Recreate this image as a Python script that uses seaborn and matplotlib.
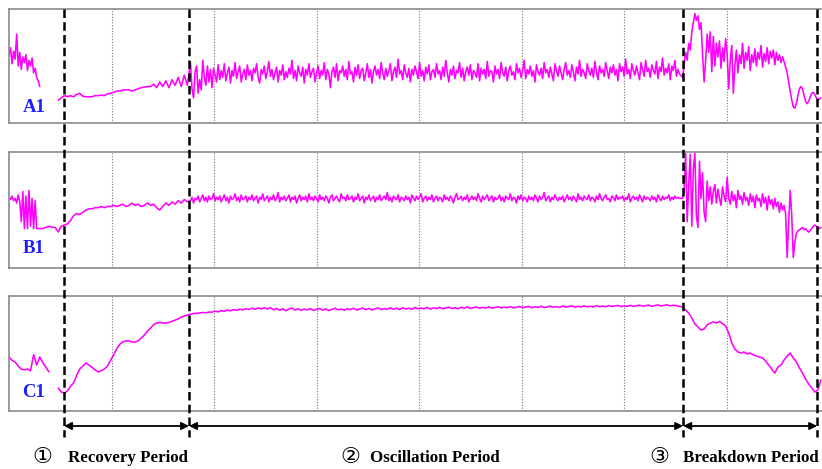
import numpy as np
import pandas as pd
import matplotlib
matplotlib.use("Agg")
import matplotlib.pyplot as plt
import seaborn as sns

# Time axis: one grid cell = 1.0; samples are stored per piece as
# (start time, sampling interval, values, joined to previous piece)
x_max = 7.93

# Boundaries between the three operating periods
period_bounds = [0.537, 1.756, 6.576, 7.883]
period_marks = ["①", "②", "③"]
period_names = ["Recovery Period", "Oscillation Period", "Breakdown Period"]
channel_names = ["A1", "B1", "C1"]

# ---- Channel A1 (percent of panel range) ----
a_pre = [60, 66, 52, 63, 56, 78, 50, 62, 47, 58, 53, 60, 46, 55, 50, 57,
         44, 48, 40, 37, 32]
a_rise = [20, 22, 24, 23, 24, 23, 25, 26, 23.5, 23,
          23, 23, 24, 24, 24.5, 24, 25.5, 26, 27, 28,
          28, 29, 29, 29, 28, 29, 30, 31, 31.5, 32,
          32, 34, 31, 36, 32, 37, 31, 38, 33, 40, 32, 42, 33]
a_osc = [
    53, 30, 22, 45, 50, 26, 38, 29, 55, 40, 33, 50, 36, 47, 31, 48, 42, 36, 51, 38,
    46, 40, 52, 37, 44, 49, 35, 46, 41, 53, 39, 45, 50, 36, 43, 47, 38, 51, 42, 46,
    37, 48, 44, 52, 40, 35, 47, 43, 50, 39, 45, 54, 41, 47, 38, 44, 49, 36, 46, 42,
    51, 38, 45, 40, 48, 43, 55, 39, 46, 37, 50, 44, 41, 49, 35, 47, 42, 52, 40, 45,
    48, 36, 44, 50, 39, 46, 42, 53, 38, 47, 43, 31, 45, 49, 40, 52, 37, 46, 44, 50,
    41, 47, 38, 54, 43, 45, 36, 49, 42, 51, 39, 46, 48, 37, 44, 52, 40, 47, 35, 45,
    50, 42, 47, 39, 53, 44, 38, 48, 41, 46, 52, 37, 45, 49, 40, 56, 43, 46, 38, 51,
    44, 40, 48, 36, 47, 42, 50, 45, 39, 53, 41, 46, 37, 49, 43, 51, 38, 45, 47, 40,
    52, 43, 46, 38, 49, 41, 55, 44, 36, 47, 42, 50, 39, 46, 44, 53, 40, 48, 37, 45,
    49, 42, 51, 38, 46, 44, 40, 52, 37, 48, 43, 47, 39, 54, 41, 46, 45, 36, 50, 43,
    47, 39, 53, 44, 41, 49, 37, 46, 50, 42, 45, 38, 52, 44, 48, 40, 46, 55, 39, 47,
    43, 50, 41, 46, 36, 51, 45, 42, 48, 39, 53, 44, 47, 40, 49, 43, 37, 52, 46, 41,
    50, 44, 38, 47, 53, 42, 46, 40, 51, 45, 37, 49, 43, 55, 41, 47, 44, 39, 52, 46,
    42, 48, 40, 54, 45, 38, 50, 44, 47, 41, 53, 46, 39, 49, 44, 51, 42, 47, 37, 52,
    45, 49, 41, 56, 43, 47, 39, 52, 46, 42, 50, 44, 38, 53, 47, 41, 55, 45, 48, 40,
    51, 46, 43, 54, 39, 49, 45, 57, 42, 48, 44, 52, 38, 50, 46, 55, 41, 47, 43]
a_brk = [
    40, 50, 62, 55, 70, 64, 80, 88, 96, 90, 94, 82, 88, 60, 36, 55, 78, 62, 80, 45,
    76, 50, 70, 58, 72, 48, 66, 54, 74, 60, 30, 55, 68, 26, 50, 64, 44, 60, 52, 70,
    48, 62, 55, 67, 46, 60, 53, 65, 50, 62, 56, 68, 49, 61, 54, 66, 52, 63, 57, 64,
    51, 62, 55, 60, 53, 58, 54, 49, 44, 36, 28, 20, 14, 13, 17, 24, 30, 32, 30, 24,
    19, 17, 19, 23, 26, 27, 25, 22, 20, 21, 22]

# ---- Channel B1 ----
b_pre = [61, 59, 62, 58, 60, 56, 63, 57, 40, 66, 34, 62, 34, 67, 36, 60,
         34, 58, 34]
b_rise = [34, 34, 35, 36, 35, 35,
          31, 36, 37, 38, 41, 45, 47, 46, 48, 50,
          51, 51, 52, 52, 53, 52, 53, 53, 54, 53,
          54, 55, 53, 54, 56, 54, 55, 53, 54, 56,
          54, 55, 52, 50, 53, 56, 54, 57, 55, 58, 56, 59, 57]
b_osc = [
    58, 61, 56, 60, 59, 62, 57, 60, 63, 58, 61, 57, 62, 59, 60, 64, 58, 61, 59, 62,
    57, 60, 63, 58, 61, 56, 62, 59, 60, 64, 58, 61, 57, 63, 59, 60, 62, 57, 61, 59,
    63, 58, 60, 62, 56, 61, 59, 64, 58, 60, 62, 57, 61, 59, 63, 58, 60, 65, 57, 61,
    59, 62, 58, 60, 63, 57, 61, 59, 62, 56, 60, 63, 58, 61, 59, 62, 57, 64, 59, 61,
    58, 62, 60, 57, 63, 59, 61, 58, 62, 60, 56, 61, 63, 58, 60, 62, 59, 57, 64, 60,
    61, 58, 63, 59, 60, 62, 57, 61, 59, 64, 58, 60, 62, 56, 61, 59, 63, 58, 60, 62,
    57, 61, 59, 63, 58, 60, 62, 59, 65, 58, 61, 57, 62, 60, 59, 63, 57, 61, 60, 58,
    62, 59, 61, 56, 63, 60, 58, 62, 59, 61, 64, 57, 60, 62, 58, 61, 59, 63, 57, 60,
    62, 58, 61, 60, 57, 63, 59, 61, 58, 62, 60, 56, 61, 64, 59, 60, 62, 58, 61, 59,
    63, 57, 60, 62, 59, 61, 58, 64, 60, 57, 62, 59, 61, 63, 58, 60, 62, 57, 61, 59,
    60, 63, 58, 61, 57, 62, 60, 59, 64, 58, 61, 60, 56, 62, 59, 63, 58, 61, 60, 57,
    62, 59, 61, 58, 63, 60, 57, 62, 59, 61, 65, 58, 60, 62, 57, 61, 59, 63, 60, 58,
    61, 59, 62, 57, 60, 63, 59, 61, 58, 62, 60, 57, 64, 59, 61, 58, 62, 60, 59, 63,
    58, 61, 60, 57, 62, 59, 64, 60, 58, 61, 63, 59, 60, 57, 62, 61, 58, 63, 59, 61,
    60, 62, 58, 61, 59, 64, 57, 60, 62, 59, 61, 58, 63, 60, 57, 62, 59, 61, 60, 58,
    62, 59, 61, 57, 63, 60, 58, 62, 59, 61, 60, 63, 58, 61, 59, 62, 60, 61, 60]
b_brk = [
    60, 66, 99, 40, 72, 98, 36, 85, 99, 45, 35, 92, 60, 82, 48, 40, 75, 58, 70, 55,
    66, 72, 56, 68, 60, 54, 70, 62, 57, 78, 60, 55, 66, 58, 63, 52, 67, 59, 62, 55,
    65, 58, 61, 54, 64, 57, 62, 52, 63, 58, 60, 53, 64, 56, 61, 50, 62, 55, 59, 51,
    60, 53, 57, 48, 56, 50, 54, 47, 9, 40, 67, 45, 9, 22, 30, 32, 33, 34, 35, 33,
    34, 32, 31, 32, 34, 36, 37, 36, 35, 34, 35]

# ---- Channel C1 ----
c_pre = [47, 44, 42.6, 39, 36.5, 35.7, 36.5, 35, 49, 40, 47, 42, 38, 34]
c_main = [
    20, 16.5, 15.7, 17.4, 21.7, 24.3, 31, 36.5, 39, 41.7,
    40, 38, 35.7, 34, 35, 36.5, 39, 44, 48.7, 54,
    58, 60, 61, 61, 60, 60, 61, 63.5, 66, 69.5,
    72, 75, 76.5, 77, 76.5, 76.5, 77, 78, 79, 80,
    81.7, 82.6, 83.5, 84, 84.8, 85, 85.2, 85.6, 85.4, 86,
    86, 86.8, 86.2, 87.3, 86.7, 87.8, 87.1, 88.2, 87.5, 88.6,
    87.9, 89, 88.3, 89.4, 88.5, 89.6, 88.8, 89.9, 88.7, 89.8,
    88.0, 89.3, 87.6, 88.9, 87.2, 88.6, 89.5, 87.8, 88.9, 87.5,
    88.7, 87.9, 89.2, 87.4, 88.5, 89.1, 87.7, 88.8, 87.3, 88.4,
    89.4, 88.0, 88.7, 87.6, 89.0, 88.2, 89.3, 87.9, 88.6, 89.5,
    88.1, 89.2, 87.8, 88.9, 89.6, 88.3, 89.0, 88.4, 89.7, 88.5,
    89.4, 88.2, 89.8, 88.7, 89.3, 88.5, 90.0, 88.8, 89.5, 88.9,
    90.1, 88.6, 89.7, 89.0, 90.2, 88.9, 89.6, 90.3, 89.1, 89.8,
    88.9, 90.2, 89.4, 90.5, 89.2, 89.9, 90.4, 89.3, 90.1, 89.5,
    90.6, 89.4, 90.0, 90.7, 89.6, 90.3, 89.8, 90.8, 89.7, 90.2,
    90.9, 89.9, 90.4, 91.0, 89.8, 90.6, 90.1, 91.1, 90.0, 90.5,
    91.2, 90.2, 90.8, 90.0, 91.3, 90.4, 90.9, 91.4, 90.3, 91.0,
    90.5, 91.5, 90.6, 91.1, 90.4, 91.6, 90.8, 91.2, 90.7, 91.7,
    90.9, 91.3, 91.8, 90.8, 91.4, 91.0, 91.9, 90.9, 91.5, 92.0,
    91.1, 91.6, 92.1, 91.0, 91.7, 92.2, 91.3, 91.8, 92.3, 91.4,
    92.0, 91.5, 91.0,
    90.4, 87.8, 85.2, 80.9, 75.7, 73.0, 70.4, 71.3, 74.8, 76.5,
    77.4, 76.5, 77.9, 76.0, 73.9, 67.8, 59.1, 53.9, 51.3, 50.4,
    51.3, 49.6, 50.4, 48.7, 47.8, 47.0, 46.1, 43.5, 40.0, 36.5,
    33.0, 38.3, 40.0, 44.3, 47.8, 50.4, 46.1, 42.6, 37.4, 33.0,
    27.8, 23.5, 20.0, 16.5, 18.3, 27.0]

channels = [
    [(0.00, 0.015, a_pre, False), (0.48, 0.03, a_rise, False),
     (1.77, 0.015, a_osc, True), (6.57, 0.015, a_brk, True)],
    [(0.00, 0.015, b_pre, False), (0.30, 0.03, b_rise, True),
     (1.77, 0.015, b_osc, True), (6.57, 0.015, b_brk, True)],
    [(0.00, 0.03, c_pre, False), (0.48, 0.03, c_main, False)],
]

MAGENTA = "#ff00ff"
FRAME = "#8a8a8a"
W, H = 822, 469

sns.set_style("white")
plt.rcParams["font.family"] = ["Liberation Serif", "DejaVu Sans"]

fig = plt.figure(figsize=(W / 100, H / 100), dpi=100)


def to_frame(pieces):
    rows = []
    stroke = -1
    for start, dt, vals, joined in pieces:
        if not joined:
            stroke += 1
        t = start + np.arange(len(vals)) * dt
        rows.append(pd.DataFrame({"t": t, "value": vals, "stroke": stroke}))
    return pd.concat(rows, ignore_index=True)


# panel boxes in pixel rows: (top, bottom)
panel_px = [(9, 123), (152, 268), (296, 411)]
label_y = [0.14, 0.17, 0.165]
left_px = 9
cell_px = 102.5

for pieces, name, (top, bot), ly in zip(channels, channel_names, panel_px, label_y):
    ax = fig.add_axes([left_px / W, 1 - bot / H, (W - left_px) / W, (bot - top) / H])
    sns.lineplot(data=to_frame(pieces), x="t", y="value", units="stroke",
                 estimator=None, sort=False, color=MAGENTA, lw=1.15, ax=ax,
                 legend=False)
    ax.set_xlim(0, x_max)
    ax.set_ylim(0, 100)
    ax.set_xticks(np.arange(1, 8))
    ax.set_yticks([])
    ax.tick_params(length=0, labelbottom=False, labelleft=False)
    ax.grid(axis="x", ls=(0, (1, 1.5)), color="#7a7a7a", lw=0.8)
    ax.set_xlabel("")
    ax.set_ylabel("")
    for side in ["top", "bottom", "left"]:
        ax.spines[side].set_color(FRAME)
        ax.spines[side].set_linewidth(1.2)
    ax.spines["right"].set_visible(False)
    ax.text((34 - left_px) / (W - left_px), ly, name, transform=ax.transAxes,
            ha="center", va="center", color="#1e1eff", fontsize=13.5,
            fontweight="bold", family=["Liberation Serif"])

# overlay for period markers, arrows and labels (y in pixel rows)
ov = fig.add_axes([left_px / W, 0, (W - left_px) / W, 1])
ov.set_xlim(0, x_max)
ov.set_ylim(H, 0)
ov.axis("off")
ov.patch.set_alpha(0)

ov.vlines(period_bounds, 9, 437, colors="black", linestyles=(0, (3.4, 1.7)),
          linewidth=1.8)

for b0, b1 in zip(period_bounds[:-1], period_bounds[1:]):
    ov.annotate("", xy=(b1, 426), xytext=(b0, 426),
                arrowprops=dict(arrowstyle="<|-|>", color="black", lw=1.3,
                                mutation_scale=11, shrinkA=0, shrinkB=0))

mark_px = [42, 350, 659]
name_px = [68, 370, 683]
for mk, nm, mx, nx in zip(period_marks, period_names, mark_px, name_px):
    ov.text((mx - left_px) / cell_px, 457, mk, ha="center", va="center",
            fontsize=16, color="black", family=["DejaVu Sans"])
    ov.text((nx - left_px) / cell_px, 458, nm, ha="left", va="center",
            fontsize=12.2, fontweight="bold", color="black",
            family=["Liberation Serif", "DejaVu Serif"])

fig.savefig("out.png", dpi=100)
